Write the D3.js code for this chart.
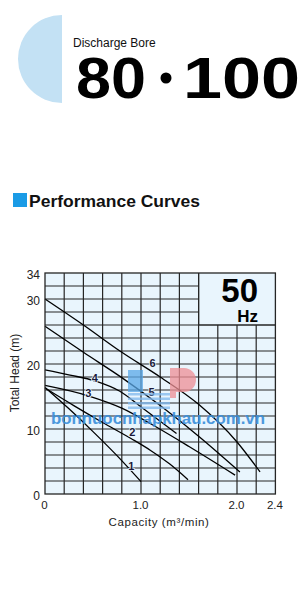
<!DOCTYPE html>
<html>
<head>
<meta charset="utf-8">
<script src="https://cdn.jsdelivr.net/npm/d3@7"></script>
<style>
  html, body { margin: 0; padding: 0; background: #ffffff; }
  svg { display: block; }
  text { font-family: "Liberation Sans", Arial, Helvetica, sans-serif; }
</style>
</head>
<body>
<div id="chart"></div>
<script>
// ---------- data ----------
const curveNames = ["1", "2", "3", "4", "5", "6"];
const capacity1 = [0, 0.25, 0.5, 0.75, 1.0];
const head1     = [16.4, 13.1, 9.6, 5.9, 1.9];
const capacity2 = [0, 0.3, 0.6, 0.9, 1.1, 1.3, 1.49];
const head2     = [16.3, 13.6, 11.0, 8.5, 6.7, 4.6, 2.2];
const capacity3 = [0, 0.45, 0.8, 1.1, 1.5, 1.98];
const head3     = [16.7, 15.1, 13.2, 10.8, 7.3, 2.9];
const capacity4 = [0, 0.26, 0.52, 0.78, 1.0, 1.2, 1.37];
const head4     = [19.1, 18.3, 17.4, 15.8, 13.4, 11.2, 9.3];
const capacity5 = [0, 0.4, 0.8, 1.2, 1.6, 2.03];
const head5     = [25.8, 21.8, 17.9, 13.6, 8.9, 3.4];
const capacity6 = [0, 0.4, 0.8, 1.2, 1.6, 2.0, 2.24];
const head6     = [30, 26, 21.8, 18, 13.8, 8, 3.4];
const labelQ = [0.90, 0.91, 0.45, 0.52, 1.11, 1.12];
const labelH = [4.3, 9.5, 15.5, 17.8, 15.6, 20.2];

const xTickValues = [0, 1.0, 2.0, 2.4];
const xTickLabels = ["0", "1.0", "2.0", "2.4"];
const yTickValues = [0, 10, 20, 30, 34];
const yTickLabels = ["0", "10", "20", "30", "34"];
const xDomain = [0, 2.4];
const yDomain = [0, 34];
const gridStepX = 0.2;
const gridStepY = 2;
const hzBoxQ = [1.6, 2.4];
const hzBoxH = [26, 34];

const curves = [
  [capacity1, head1], [capacity2, head2], [capacity3, head3],
  [capacity4, head4], [capacity5, head5], [capacity6, head6]
].map(([q, h], i) => ({ name: curveNames[i], pts: q.map((v, j) => [v, h[j]]) }));

// ---------- drawing ----------
const W = 300, H = 600;
const svg = d3.select("#chart").append("svg").attr("width", W).attr("height", H);

// Header: light blue half-circle
const arc = d3.arc().innerRadius(0).outerRadius(44)
  .startAngle(Math.PI).endAngle(2 * Math.PI);
svg.append("path").attr("d", arc()).attr("transform", "translate(62,59)")
  .attr("fill", "#c3e1f4");

svg.append("text").attr("x", 73).attr("y", 47)
  .attr("font-size", 12).attr("fill", "#111").text("Discharge Bore");

const big = svg.append("g").attr("font-weight", "bold").attr("fill", "#000").attr("font-size", 58);
big.append("text").attr("x", 76).attr("y", 98)
  .attr("textLength", 70).attr("lengthAdjust", "spacingAndGlyphs").text("80");
big.append("circle").attr("cx", 166).attr("cy", 78).attr("r", 5.5).attr("fill", "#000");
big.append("text").attr("x", 183).attr("y", 98)
  .attr("textLength", 117).attr("lengthAdjust", "spacingAndGlyphs").text("100");

// Section heading
svg.append("rect").attr("x", 13).attr("y", 193).attr("width", 14).attr("height", 14)
  .attr("fill", "#1a9be6");
svg.append("text").attr("x", 29).attr("y", 207)
  .attr("font-size", 17).attr("font-weight", "bold").attr("fill", "#111")
  .attr("textLength", 171).attr("lengthAdjust", "spacingAndGlyphs")
  .text("Performance Curves");

// Plot area
const x = d3.scaleLinear().domain(xDomain).range([45, 275.4]);
const y = d3.scaleLinear().domain(yDomain).range([494, 273]);

const plot = svg.append("g");
plot.append("rect")
  .attr("x", x(xDomain[0])).attr("y", y(yDomain[1]))
  .attr("width", x(xDomain[1]) - x(xDomain[0]))
  .attr("height", y(yDomain[0]) - y(yDomain[1]))
  .attr("fill", "#e9f5fd");

const gridX = d3.range(gridStepX, xDomain[1] - 1e-9, gridStepX);
const gridY = d3.range(gridStepY, yDomain[1] - 1e-9, gridStepY);
const grid = plot.append("g").attr("stroke", "#262626").attr("stroke-width", 1.2);
grid.selectAll("line.v").data(gridX).join("line").attr("class", "v")
  .attr("x1", d => x(d)).attr("x2", d => x(d))
  .attr("y1", y(0))
  .attr("y2", d => d > hzBoxQ[0] + 1e-6 ? y(hzBoxH[0]) : y(yDomain[1]));
grid.selectAll("line.h").data(gridY).join("line").attr("class", "h")
  .attr("y1", d => y(d)).attr("y2", d => y(d))
  .attr("x1", x(0))
  .attr("x2", d => d > hzBoxH[0] + 1e-6 ? x(hzBoxQ[0]) : x(xDomain[1]));

// 50 Hz box border
plot.append("path")
  .attr("d", `M${x(hzBoxQ[0])},${y(hzBoxH[1])}V${y(hzBoxH[0])}H${x(hzBoxQ[1])}`)
  .attr("fill", "none").attr("stroke", "#262626").attr("stroke-width", 1.2);
plot.append("text").attr("x", 258).attr("y", 302)
  .attr("text-anchor", "end").attr("font-size", 33).attr("font-weight", "bold")
  .attr("fill", "#000").text("50");
plot.append("text").attr("x", 258).attr("y", 322)
  .attr("text-anchor", "end").attr("font-size", 17).attr("font-weight", "bold")
  .attr("fill", "#000").text("Hz");

// Watermark
const wm = svg.append("g").attr("opacity", 0.75);
wm.append("rect").attr("x", 128).attr("y", 370).attr("width", 15).attr("height", 22).attr("fill", "#5aa8e8");
for (let i = 0; i < 4; i++) {
  wm.append("rect").attr("x", 128).attr("y", 393 + i * 4.5).attr("width", 42).attr("height", 2.5).attr("fill", "#7fb8ee");
}
wm.append("path")
  .attr("d", "M170,368 H184 A12,12 0 0 1 184,392 H176 V398 H170 Z")
  .attr("fill", "#ef8f95");
svg.append("text").attr("x", 158).attr("y", 424)
  .attr("text-anchor", "middle").attr("font-size", 16.5).attr("font-weight", "bold")
  .attr("fill", "#3b8fda").attr("opacity", 0.9)
  .attr("textLength", 214).attr("lengthAdjust", "spacingAndGlyphs")
  .text("bonnuocnhapkhau.com.vn");

// Curves
const line = d3.line().x(d => x(d[0])).y(d => y(d[1])).curve(d3.curveMonotoneX);
plot.append("g").selectAll("path").data(curves).join("path")
  .attr("d", d => line(d.pts))
  .attr("fill", "none").attr("stroke", "#000").attr("stroke-width", 1.3);

// Curve labels
plot.append("g").selectAll("text").data(curveNames).join("text")
  .attr("x", (d, i) => x(labelQ[i])).attr("y", (d, i) => y(labelH[i]))
  .attr("dy", "0.35em").attr("text-anchor", "middle")
  .attr("font-size", 11).attr("font-weight", "bold").attr("fill", "#1a1a3a")
  .attr("paint-order", "stroke").attr("stroke", "#e9f5fd").attr("stroke-width", 1.5)
  .text(d => d);

// Outer border
plot.append("rect")
  .attr("x", x(xDomain[0])).attr("y", y(yDomain[1]))
  .attr("width", x(xDomain[1]) - x(xDomain[0]))
  .attr("height", y(yDomain[0]) - y(yDomain[1]))
  .attr("fill", "none").attr("stroke", "#262626").attr("stroke-width", 1.3);

// Axes (labels only)
const xAxis = d3.axisBottom(x).tickValues(xTickValues)
  .tickFormat((d, i) => xTickLabels[i]).tickSize(0).tickPadding(0);
const gx = svg.append("g").attr("transform", "translate(-1,501)").call(xAxis);
gx.select(".domain").remove();
gx.selectAll("text").attr("font-size", 11.5).attr("fill", "#222")
  .attr("font-family", "Liberation Sans, Arial, sans-serif").attr("dy", "0.71em");

const yAxis = d3.axisLeft(y).tickValues(yTickValues)
  .tickFormat((d, i) => yTickLabels[i]).tickSize(0).tickPadding(0);
const gy = svg.append("g").attr("transform", "translate(40,1.5)").call(yAxis);
gy.select(".domain").remove();
gy.selectAll("text").attr("font-size", 12).attr("fill", "#222")
  .attr("font-family", "Liberation Sans, Arial, sans-serif");

svg.append("text").attr("x", 159).attr("y", 526)
  .attr("text-anchor", "middle").attr("font-size", 11.5).attr("fill", "#222")
  .attr("letter-spacing", 0.6)
  .text("Capacity (m³/min)");
svg.append("text").attr("transform", "translate(19,373) rotate(-90)")
  .attr("text-anchor", "middle").attr("font-size", 12).attr("fill", "#222")
  .text("Total Head (m)");
</script>
</body>
</html>
